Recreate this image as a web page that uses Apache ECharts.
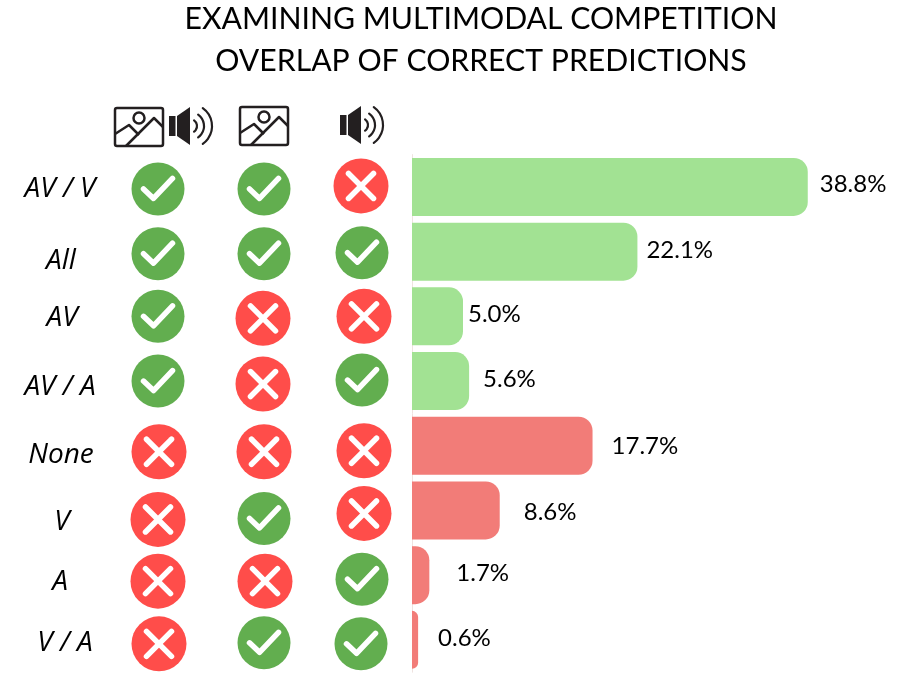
<!DOCTYPE html>
<html lang="en">
<head>
  <meta charset="UTF-8">
  <title>Examining multimodal competition</title>
  <script src="https://cdn.jsdelivr.net/npm/echarts@6/dist/echarts.min.js"></script>
  <style>
    html, body { margin: 0; padding: 0; background: #fff; }
    #main { width: 898px; height: 678px; }
  </style>
</head>
<body>

<div id="main"></div>

<script>
  var categories = ['AV / V', 'All', 'AV', 'AV / A', 'None', 'V', 'A', 'V / A'];
  var overlap = [38.8, 22.1, 5.0, 5.6, 17.7, 8.6, 1.7, 0.6];
  var modalities = ['AV', 'Image', 'Audio'];
  // 1 = model was correct, 0 = wrong
  var avCorrect = [1, 1, 1, 1, 0, 0, 0, 0];
  var imageCorrect = [1, 1, 0, 0, 0, 1, 0, 1];
  var audioCorrect = [0, 1, 0, 1, 0, 0, 1, 1];

  // the original was laid out by hand, so things sit a little off the grid
  var labelGap = [12, 9, 5, 14, 19, 24, 27, 20];
  var labelDy = [-3, -1, -2, -2, 1, 2, -2, -2];
  var nameDx = [0, 1, 2, 0, 1, 2, 0, 5];
  var nameDy = [2, 9, 2, 6, 9, 12, 7, 3];
  var iconDx = [[0, 4, -1], [0, 4, 0], [0, 3, 2], [0, 3, 0], [1, 4, 2], [0, 4, 2], [0, 5, 0], [1, 4, -1]];
  var iconDy = [[2, 2, -1], [2, 2, 1], [0, 2, 0], [0, 3, -1], [6, 6, 5], [9, 8, 3], [6, 6, 4], [4, 3, 4]];

  var GREEN = '#A2E293', RED = '#F27C78';
  var INK = '#231f20';

  var barData = overlap.map(function (v, i) {
    return {
      value: v,
      itemStyle: { color: i < 4 ? GREEN : RED },
      label: { distance: labelGap[i], offset: [0, labelDy[i]] }
    };
  });

  var marks = [];
  [avCorrect, imageCorrect, audioCorrect].forEach(function (col, c) {
    col.forEach(function (ok, r) {
      marks.push([c, r, ok, iconDx[r][c], iconDy[r][c]]);
    });
  });

  var names = categories.map(function (c, i) {
    return [0, i, nameDx[i], nameDy[i]];
  });

  function renderMark(params, api) {
    var p = api.coord([api.value(0), api.value(1)]);
    var ok = api.value(2);
    var x = p[0] + api.value(3), y = p[1] + api.value(4);
    var line = { stroke: '#fff', lineWidth: 5.5, lineCap: 'round', lineJoin: 'round', fill: null };
    var kids = [{ type: 'circle', shape: { cx: 0, cy: 0, r: ok ? 26.5 : 27.5 }, style: { fill: ok ? '#62AE4F' : '#FF4D4A' } }];
    if (ok) {
      kids.push({ type: 'polyline', shape: { points: [[-14.5, 0], [-4.5, 9.5], [14.5, -10.5]] }, style: line });
    } else {
      kids.push({ type: 'line', shape: { x1: -12.5, y1: -12.5, x2: 12.5, y2: 12.5 }, style: line });
      kids.push({ type: 'line', shape: { x1: 12.5, y1: -12.5, x2: -12.5, y2: 12.5 }, style: line });
    }
    return { type: 'group', x: x, y: y, children: kids };
  }

  // row names sit 98px left of the first icon column
  function renderName(params, api) {
    var p = api.coord([api.value(0), api.value(1)]);
    return {
      type: 'text',
      x: p[0] - 98 + api.value(2),
      y: p[1] + api.value(3),
      style: {
        text: categories[params.dataIndex],
        fontFamily: 'Open Sans',
        fontStyle: 'italic',
        fontSize: 28,
        fill: '#000',
        align: 'center',
        verticalAlign: 'middle'
      }
    };
  }

  function imageIcon(x, y) {
    var s = { stroke: INK, lineWidth: 2.5, fill: null, lineJoin: 'round' };
    return {
      type: 'group', x: x, y: y, silent: true,
      children: [
        { type: 'rect', shape: { x: 0, y: 0, width: 48, height: 38, r: 2 }, style: s },
        { type: 'circle', shape: { cx: 24, cy: 10, r: 5.5 }, style: s },
        { type: 'polyline', shape: { points: [[0, 26], [14, 17], [24, 27]] }, style: s },
        { type: 'polyline', shape: { points: [[11, 38], [39, 10], [48, 19]] }, style: s }
      ]
    };
  }

  function speakerIcon(x, y) {
    var arc = function (r) {
      return {
        type: 'arc',
        shape: { cx: 21, cy: 19, r: r, startAngle: -0.95, endAngle: 0.95 },
        style: { stroke: INK, lineWidth: 2.2, fill: null, lineCap: 'round' }
      };
    };
    return {
      type: 'group', x: x, y: y, silent: true,
      children: [
        { type: 'rect', shape: { x: 0, y: 9, width: 6.5, height: 20 }, style: { fill: INK } },
        { type: 'polygon', shape: { points: [[8, 9], [21, 0], [21, 38], [8, 29]] }, style: { fill: INK } },
        arc(7), arc(14), arc(22)
      ]
    };
  }

  var chart = echarts.init(document.getElementById('main'), null, { renderer: 'canvas' });
  chart.setOption({
    animation: false,
    backgroundColor: '#fff',
    title: {
      text: 'EXAMINING MULTIMODAL COMPETITION\nOVERLAP OF CORRECT PREDICTIONS',
      left: 476,
      top: -7,
      textAlign: 'center',
      textStyle: { fontFamily: 'Lato', fontWeight: 'normal', fontSize: 30.2, lineHeight: 42, color: '#000' }
    },
    grid: [
      { left: 412, top: 154.6, width: 408, height: 517.6, outerBoundsMode: 'none' },
      { left: 107, top: 154.6, width: 306, height: 517.6, outerBoundsMode: 'none' }
    ],
    xAxis: [
      { type: 'value', min: 0, max: 40, show: false },
      { type: 'category', gridIndex: 1, data: modalities, show: false }
    ],
    yAxis: [
      {
        type: 'category',
        inverse: true,
        data: categories,
        axisLine: { show: true, lineStyle: { color: '#efe3e0', width: 1 } },
        axisTick: { show: false },
        axisLabel: { show: false }
      },
      { type: 'category', gridIndex: 1, inverse: true, data: categories, show: false }
    ],
    series: [
      {
        type: 'bar',
        data: barData,
        barWidth: 58,
        itemStyle: { borderRadius: [0, 14, 14, 0] },
        label: {
          show: true,
          position: 'right',
          color: '#000',
          fontFamily: 'Lato',
          fontSize: 24,
          formatter: function (p) { return p.value.toFixed(1) + '%'; }
        }
      },
      {
        type: 'custom',
        xAxisIndex: 1,
        yAxisIndex: 1,
        data: marks,
        renderItem: renderMark,
        clip: false
      },
      {
        type: 'custom',
        xAxisIndex: 1,
        yAxisIndex: 1,
        data: names,
        renderItem: renderName,
        clip: false
      }
    ],
    graphic: [
      imageIcon(115, 108),
      speakerIcon(169, 107),
      imageIcon(240, 107),
      speakerIcon(340, 106)
    ]
  });
</script>
</body>
</html>
